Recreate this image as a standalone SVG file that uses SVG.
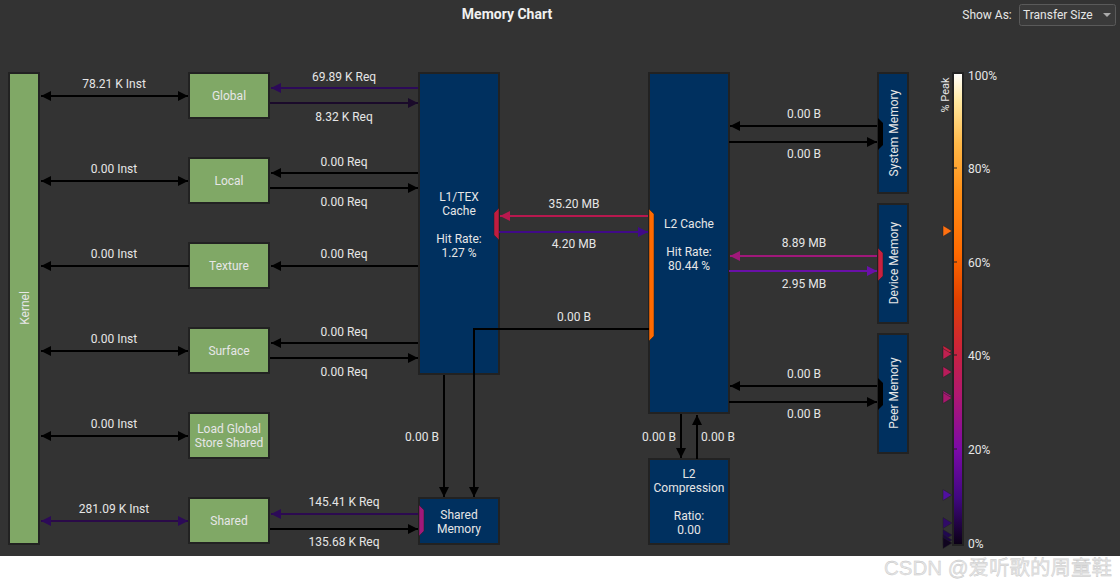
<svg xmlns="http://www.w3.org/2000/svg" width="1120" height="586" viewBox="0 0 1120 586">
<style>
text{font-family:Roboto,"Liberation Sans",sans-serif;fill:#e6e6e6;font-size:12px;text-anchor:middle}
.g{fill:#80a866;stroke:#222;stroke-width:2}
.b{fill:#00305f;stroke:#222;stroke-width:2}
.ln{fill:none;stroke-width:2}
.pct{text-anchor:start}
</style>
<defs>
<marker id="ak" viewBox="0 0 10 10" refX="10" refY="5" markerWidth="10" markerHeight="10" markerUnits="userSpaceOnUse" orient="auto-start-reverse"><path d="M0,0L10,5L0,10z" fill="#000"/></marker>
<marker id="ap1" viewBox="0 0 10 10" refX="10" refY="5" markerWidth="10" markerHeight="10" markerUnits="userSpaceOnUse" orient="auto-start-reverse"><path d="M0,0L10,5L0,10z" fill="#2c0a58"/></marker>
<marker id="ap2" viewBox="0 0 10 10" refX="10" refY="5" markerWidth="10" markerHeight="10" markerUnits="userSpaceOnUse" orient="auto-start-reverse"><path d="M0,0L10,5L0,10z" fill="#1a0a2a"/></marker>
<marker id="acr" viewBox="0 0 10 10" refX="10" refY="5" markerWidth="10" markerHeight="10" markerUnits="userSpaceOnUse" orient="auto-start-reverse"><path d="M0,0L10,5L0,10z" fill="#b8184e"/></marker>
<marker id="apu" viewBox="0 0 10 10" refX="10" refY="5" markerWidth="10" markerHeight="10" markerUnits="userSpaceOnUse" orient="auto-start-reverse"><path d="M0,0L10,5L0,10z" fill="#400a88"/></marker>
<marker id="amg" viewBox="0 0 10 10" refX="10" refY="5" markerWidth="10" markerHeight="10" markerUnits="userSpaceOnUse" orient="auto-start-reverse"><path d="M0,0L10,5L0,10z" fill="#a0187a"/></marker>
<marker id="avi" viewBox="0 0 10 10" refX="10" refY="5" markerWidth="10" markerHeight="10" markerUnits="userSpaceOnUse" orient="auto-start-reverse"><path d="M0,0L10,5L0,10z" fill="#6a10a8"/></marker>
<linearGradient id="heat" x1="0" y1="0" x2="0" y2="1">
<stop offset="0" stop-color="#ffffff"/>
<stop offset="0.06" stop-color="#ffe8a0"/>
<stop offset="0.15" stop-color="#ffb848"/>
<stop offset="0.25" stop-color="#ff9018"/>
<stop offset="0.38" stop-color="#ff6a00"/>
<stop offset="0.48" stop-color="#e04000"/>
<stop offset="0.58" stop-color="#cc2438"/>
<stop offset="0.68" stop-color="#b01870"/>
<stop offset="0.8" stop-color="#7a0aa8"/>
<stop offset="0.9" stop-color="#400880"/>
<stop offset="1" stop-color="#0a0014"/>
</linearGradient>
</defs>
<rect x="0" y="0" width="1120" height="556" fill="#333333"/>
<rect x="0" y="556" width="1120" height="30" fill="#ffffff"/>
<text x="507" y="19" style="font-size:14px;font-weight:bold;fill:#f0f0f0">Memory Chart</text>
<text x="987" y="19">Show As:</text>
<rect x="1019.5" y="4.5" width="96" height="21" rx="2" fill="#3a3a3a" stroke="#5a5a5a"/>
<text x="1023" y="19" class="pct">Transfer Size</text>
<path d="M1103,13L1111,13L1107,17z" fill="#aaa"/>

<g id="kernel"><rect class="g" x="9" y="73" width="30" height="471"/><text transform="translate(29,308) rotate(-90)">Kernel</text></g>
<g id="global"><rect class="g" x="189" y="73" width="80" height="45"/><text x="229" y="100">Global</text></g>
<g id="local"><rect class="g" x="189" y="158" width="80" height="45"/><text x="229" y="185">Local</text></g>
<g id="texture"><rect class="g" x="189" y="243" width="80" height="45"/><text x="229" y="270">Texture</text></g>
<g id="surface"><rect class="g" x="189" y="328" width="80" height="45"/><text x="229" y="355">Surface</text></g>
<g id="lgss"><rect class="g" x="189" y="413" width="80" height="45"/><text x="229" y="433">Load Global</text><text x="229" y="447">Store Shared</text></g>
<g id="shared"><rect class="g" x="189" y="498" width="80" height="45"/><text x="229" y="525">Shared</text></g>

<g id="l1tex"><rect class="b" x="419" y="73" width="80" height="301"/>
<text x="459" y="201">L1/TEX</text><text x="459" y="215">Cache</text><text x="459" y="243">Hit Rate:</text><text x="459" y="257">1.27 %</text>
<polygon points="494,213 499,208 499,240 494,235" fill="#c01c40" stroke="#222" stroke-width="0.5"/></g>

<g id="l2cache"><rect class="b" x="649" y="73" width="80" height="340"/>
<text x="689" y="228">L2 Cache</text><text x="689" y="256">Hit Rate:</text><text x="689" y="270">80.44 %</text>
<polygon points="649,209 654,214 654,336 649,341" fill="#ff6a00" stroke="#222" stroke-width="0.5"/></g>

<g id="sharedmem"><rect class="b" x="419" y="498" width="80" height="46"/>
<text x="459" y="519">Shared</text><text x="459" y="533">Memory</text>
<polygon points="419,505 424,510 424,531 419,536" fill="#a0187a" stroke="#222" stroke-width="0.5"/></g>

<g id="l2comp"><rect class="b" x="649" y="459" width="80" height="85"/>
<text x="689" y="478">L2</text><text x="689" y="492">Compression</text><text x="689" y="520">Ratio:</text><text x="689" y="534">0.00</text></g>

<g id="sysmem"><rect class="b" x="878" y="73" width="30" height="120"/>
<text transform="translate(898,133) rotate(-90)">System Memory</text>
<polygon points="878,118 883,123 883,145 878,150" fill="#000"/></g>

<g id="devmem"><rect class="b" x="878" y="204" width="30" height="119"/>
<text transform="translate(898,263) rotate(-90)">Device Memory</text>
<polygon points="878,248 883,253 883,276 878,281" fill="#c82040" stroke="#222" stroke-width="0.5"/></g>

<g id="peermem"><rect class="b" x="878" y="334" width="30" height="119"/>
<text transform="translate(898,393) rotate(-90)">Peer Memory</text>
<polygon points="878,378 883,383 883,405 878,410" fill="#000"/></g>

<g id="connectors">
<line class="ln" x1="41" y1="96" x2="188" y2="96" stroke="#000" marker-start="url(#ak)" marker-end="url(#ak)"/>
<line class="ln" x1="41" y1="181" x2="188" y2="181" stroke="#000" marker-start="url(#ak)" marker-end="url(#ak)"/>
<line class="ln" x1="41" y1="266" x2="189" y2="266" stroke="#000" marker-start="url(#ak)"/>
<line class="ln" x1="41" y1="351" x2="188" y2="351" stroke="#000" marker-start="url(#ak)" marker-end="url(#ak)"/>
<line class="ln" x1="41" y1="436" x2="188" y2="436" stroke="#000" marker-start="url(#ak)" marker-end="url(#ak)"/>
<line class="ln" x1="41" y1="521" x2="188" y2="521" stroke="#2a0a48" marker-start="url(#ap1)" marker-end="url(#ap1)"/>
<line class="ln" x1="418" y1="88" x2="271" y2="88" stroke="#2c0a58" marker-end="url(#ap1)"/>
<line class="ln" x1="270" y1="103" x2="418" y2="103" stroke="#1a0a2a" marker-end="url(#ap2)"/>
<line class="ln" x1="418" y1="173" x2="271" y2="173" stroke="#000" marker-end="url(#ak)"/>
<line class="ln" x1="270" y1="188" x2="418" y2="188" stroke="#000" marker-end="url(#ak)"/>
<line class="ln" x1="418" y1="266" x2="271" y2="266" stroke="#000" marker-end="url(#ak)"/>
<line class="ln" x1="418" y1="343" x2="271" y2="343" stroke="#000" marker-end="url(#ak)"/>
<line class="ln" x1="270" y1="358" x2="418" y2="358" stroke="#000" marker-end="url(#ak)"/>
<line class="ln" x1="418" y1="514" x2="271" y2="514" stroke="#2c0a50" marker-end="url(#ap1)"/>
<line class="ln" x1="270" y1="529" x2="418" y2="529" stroke="#000" marker-end="url(#ak)"/>
<line class="ln" x1="648" y1="216" x2="500" y2="216" stroke="#b8184e" marker-end="url(#acr)"/>
<line class="ln" x1="499" y1="232" x2="648" y2="232" stroke="#400a88" marker-end="url(#apu)"/>
<polyline class="ln" points="649,329 474,329 474,497" stroke="#000" marker-end="url(#ak)"/>
<line class="ln" x1="444" y1="375" x2="444" y2="497" stroke="#000" marker-end="url(#ak)"/>
<line class="ln" x1="877" y1="126" x2="730" y2="126" stroke="#000" marker-end="url(#ak)"/>
<line class="ln" x1="729" y1="142" x2="877" y2="142" stroke="#000" marker-end="url(#ak)"/>
<line class="ln" x1="877" y1="256" x2="730" y2="256" stroke="#a0187a" marker-end="url(#amg)"/>
<line class="ln" x1="729" y1="271" x2="877" y2="271" stroke="#6a10a8" marker-end="url(#avi)"/>
<line class="ln" x1="877" y1="386" x2="730" y2="386" stroke="#000" marker-end="url(#ak)"/>
<line class="ln" x1="729" y1="402" x2="877" y2="402" stroke="#000" marker-end="url(#ak)"/>
<line class="ln" x1="681" y1="414" x2="681" y2="458" stroke="#000" marker-end="url(#ak)"/>
<line class="ln" x1="697" y1="459" x2="697" y2="415" stroke="#000" marker-end="url(#ak)"/>
<text x="114" y="88">78.21 K Inst</text>
<text x="114" y="173">0.00 Inst</text>
<text x="114" y="258">0.00 Inst</text>
<text x="114" y="343">0.00 Inst</text>
<text x="114" y="428">0.00 Inst</text>
<text x="114" y="513">281.09 K Inst</text>
<text x="344" y="81">69.89 K Req</text>
<text x="344" y="121">8.32 K Req</text>
<text x="344" y="166">0.00 Req</text>
<text x="344" y="206">0.00 Req</text>
<text x="344" y="258">0.00 Req</text>
<text x="344" y="336">0.00 Req</text>
<text x="344" y="376">0.00 Req</text>
<text x="344" y="506">145.41 K Req</text>
<text x="344" y="546">135.68 K Req</text>
<text x="574" y="208">35.20 MB</text>
<text x="574" y="248">4.20 MB</text>
<text x="574" y="321">0.00 B</text>
<text x="422" y="441">0.00 B</text>
<text x="804" y="118">0.00 B</text>
<text x="804" y="158">0.00 B</text>
<text x="804" y="247">8.89 MB</text>
<text x="804" y="288">2.95 MB</text>
<text x="804" y="378">0.00 B</text>
<text x="804" y="418">0.00 B</text>
<text x="659" y="441">0.00 B</text>
<text x="718" y="441">0.00 B</text>
</g>

<g id="legend">
<rect x="953" y="73" width="10" height="472" fill="url(#heat)" stroke="#222" stroke-width="2"/>
<g stroke="#222" stroke-width="1"><line x1="953" y1="168" x2="957" y2="168"/><line x1="953" y1="262" x2="957" y2="262"/><line x1="953" y1="355" x2="957" y2="355"/><line x1="953" y1="449" x2="957" y2="449"/></g>
<text transform="translate(949,95) rotate(-90)" style="font-size:11px">% Peak</text>
<text x="968" y="80" class="pct">100%</text>
<text x="968" y="173" class="pct">80%</text>
<text x="968" y="267" class="pct">60%</text>
<text x="968" y="360" class="pct">40%</text>
<text x="968" y="454" class="pct">20%</text>
<text x="968" y="548" class="pct">0%</text>
<g stroke="#222" stroke-width="0.5">
<polygon points="943,225.5 952,231 943,236.5" fill="#ff7010"/>
<polygon points="943,345.5 952,351 943,356.5" fill="#c82040"/>
<polygon points="943,348.5 952,354 943,359.5" fill="#c02050"/>
<polygon points="943,366.5 952,372 943,377.5" fill="#b81c5a"/>
<polygon points="943,390.5 952,396 943,401.5" fill="#a0187a"/>
<polygon points="943,392.5 952,398 943,403.5" fill="#a8186e"/>
<polygon points="943,489.5 952,495 943,500.5" fill="#5010a0"/>
<polygon points="943,517.5 952,523 943,528.5" fill="#300a68"/>
<polygon points="943,529.5 952,535 943,540.5" fill="#200850"/>
<polygon points="943,534.5 952,540 943,545.5" fill="#1a0640"/>
<polygon points="943,537.5 952,543 943,548.5" fill="#100420"/>
</g>
</g>
<text x="998" y="575" style="font-size:20.5px;fill:#e6e6e6;font-family:'Liberation Sans','Noto Sans CJK SC',sans-serif;stroke:#c4c4c4;stroke-width:0.35">CSDN @爱听歌的周童鞋</text>
</svg>
